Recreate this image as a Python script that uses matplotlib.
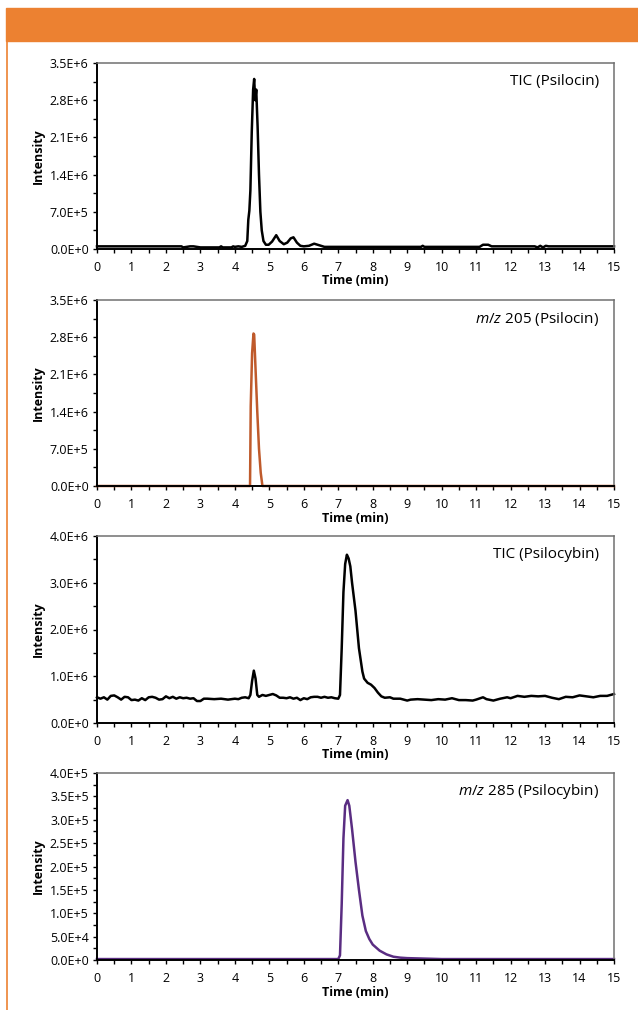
#!/usr/bin/env python3
import matplotlib

matplotlib.use("Agg")
import matplotlib.pyplot as plt  # noqa: E402
from matplotlib.lines import Line2D  # noqa: E402
from matplotlib.patches import Rectangle  # noqa: E402
from matplotlib.ticker import FixedLocator, FixedFormatter, MultipleLocator  # noqa: E402

plt.rcParams["font.family"] = ["Open Sans", "DejaVu Sans"]
plt.rcParams["mathtext.fontset"] = "custom"
plt.rcParams["mathtext.it"] = "Open Sans:italic"
plt.rcParams["mathtext.rm"] = "Open Sans"

ORANGE = "#ec8131"
BROWN = "#bf5a2b"
PURPLE = "#5a2d82"

X_TICKS = list(range(0, 16))

# panel 1: TIC (Psilocin), intensity in 1e6
psilocin_tic_t = [0.0, 2.45, 2.5, 2.6, 2.7, 2.8, 2.9, 3.0, 3.3, 3.55, 3.6, 3.65,
                  3.9, 3.95, 4.0, 4.1, 4.2, 4.3, 4.36, 4.39, 4.42, 4.45, 4.49,
                  4.53, 4.56, 4.59, 4.62, 4.66, 4.70, 4.74, 4.78, 4.83, 4.9,
                  4.98, 5.08, 5.2, 5.3, 5.42, 5.52, 5.62, 5.7, 5.8, 5.9, 6.0,
                  6.15, 6.3, 6.45, 6.6, 6.8, 7.0, 9.4, 9.45, 9.5, 11.1, 11.2,
                  11.35, 11.45, 12.7, 12.78, 12.86, 12.94, 13.02, 13.1, 15.0]
psilocin_tic_i = [0.05, 0.05, 0.03, 0.04, 0.05, 0.05, 0.04, 0.03, 0.03, 0.03,
                  0.05, 0.03, 0.03, 0.05, 0.04, 0.05, 0.04, 0.06, 0.15, 0.55,
                  0.72, 1.1, 2.2, 3.0, 3.2, 2.8, 3.0, 2.3, 1.4, 0.7, 0.35,
                  0.15, 0.08, 0.08, 0.14, 0.26, 0.15, 0.09, 0.12, 0.2, 0.22,
                  0.12, 0.06, 0.05, 0.06, 0.1, 0.07, 0.04, 0.04, 0.04, 0.04,
                  0.06, 0.04, 0.04, 0.08, 0.08, 0.05, 0.05, 0.03, 0.06, 0.03,
                  0.06, 0.05, 0.05]

# panel 2: m/z 205 (Psilocin), intensity in 1e6
psilocin_205_t = [0.0, 4.44, 4.46, 4.50, 4.54, 4.56, 4.60, 4.65, 4.70, 4.75, 4.80, 15.0]
psilocin_205_i = [0.0, 0.0, 1.5, 2.5, 2.87, 2.85, 2.2, 1.4, 0.7, 0.25, 0.0, 0.0]

# panel 3: TIC (Psilocybin), intensity in 1e6
psilocybin_tic_t = [0.0, 0.1, 0.2, 0.3, 0.4, 0.5, 0.6, 0.7, 0.8, 0.9, 1.0, 1.1,
                    1.2, 1.3, 1.4, 1.5, 1.6, 1.7, 1.8, 1.9, 2.0, 2.1, 2.2, 2.3,
                    2.4, 2.5, 2.6, 2.7, 2.8, 2.9, 3.0, 3.1, 3.2, 3.4, 3.6, 3.8,
                    4.0, 4.1, 4.2, 4.3, 4.4, 4.45, 4.5, 4.55, 4.6, 4.65, 4.7,
                    4.8, 4.9, 5.0, 5.1, 5.2, 5.3, 5.4, 5.5, 5.6, 5.7, 5.8, 5.9,
                    6.0, 6.1, 6.2, 6.3, 6.4, 6.5, 6.6, 6.7, 6.8, 6.9, 7.0, 7.05,
                    7.1, 7.15, 7.2, 7.25, 7.3, 7.35, 7.4, 7.5, 7.6, 7.7, 7.75,
                    7.85, 7.95, 8.05, 8.15, 8.25, 8.35, 8.5, 8.6, 8.8, 9.0, 9.1,
                    9.3, 9.5, 9.7, 9.9, 10.1, 10.3, 10.5, 10.7, 10.9, 11.0, 11.2,
                    11.3, 11.5, 11.7, 11.9, 12.0, 12.2, 12.4, 12.6, 12.8, 13.0,
                    13.2, 13.4, 13.6, 13.8, 14.0, 14.2, 14.4, 14.6, 14.8, 15.0]
psilocybin_tic_i = [0.55, 0.52, 0.55, 0.50, 0.58, 0.59, 0.55, 0.50, 0.56, 0.55,
                    0.49, 0.50, 0.48, 0.53, 0.49, 0.55, 0.56, 0.54, 0.50, 0.51,
                    0.57, 0.53, 0.56, 0.52, 0.55, 0.53, 0.54, 0.52, 0.53, 0.47,
                    0.47, 0.52, 0.52, 0.51, 0.52, 0.50, 0.52, 0.51, 0.54, 0.55,
                    0.53, 0.60, 0.90, 1.12, 0.95, 0.60, 0.56, 0.60, 0.58, 0.60,
                    0.62, 0.59, 0.54, 0.54, 0.53, 0.55, 0.52, 0.54, 0.49, 0.53,
                    0.51, 0.55, 0.56, 0.56, 0.54, 0.56, 0.54, 0.55, 0.53, 0.52,
                    0.60, 1.60, 2.80, 3.40, 3.60, 3.52, 3.35, 3.00, 2.40, 1.60,
                    1.10, 0.95, 0.86, 0.82, 0.75, 0.65, 0.57, 0.54, 0.55, 0.52,
                    0.52, 0.48, 0.50, 0.51, 0.50, 0.49, 0.51, 0.50, 0.53, 0.49,
                    0.49, 0.48, 0.50, 0.55, 0.51, 0.48, 0.52, 0.55, 0.53, 0.58,
                    0.56, 0.58, 0.57, 0.58, 0.54, 0.51, 0.56, 0.55, 0.59, 0.57,
                    0.55, 0.58, 0.58, 0.62]

# panel 4: m/z 285 (Psilocybin), intensity in 1e5
psilocybin_285_t = [0.0, 7.0, 7.05, 7.1, 7.15, 7.2, 7.27, 7.32, 7.4, 7.5, 7.6,
                    7.7, 7.8, 7.9, 8.0, 8.2, 8.4, 8.6, 8.8, 9.0, 9.5, 10.0, 15.0]
psilocybin_285_i = [0.02, 0.02, 0.1, 1.2, 2.6, 3.3, 3.42, 3.3, 2.8, 2.1, 1.5,
                    0.95, 0.62, 0.45, 0.33, 0.2, 0.12, 0.07, 0.05, 0.04, 0.03,
                    0.02, 0.02]

Y_TICKS_A = [0.0, 0.7, 1.4, 2.1, 2.8, 3.5]
Y_LABELS_A = ["0.0E+0", "7.0E+5", "1.4E+6", "2.1E+6", "2.8E+6", "3.5E+6"]
Y_TICKS_B = [0.0, 1.0, 2.0, 3.0, 4.0]
Y_LABELS_B = ["0.0E+0", "1.0E+6", "2.0E+6", "3.0E+6", "4.0E+6"]
Y_TICKS_C = [0.0, 0.5, 1.0, 1.5, 2.0, 2.5, 3.0, 3.5, 4.0]
Y_LABELS_C = ["0.0E+0", "5.0E+4", "1.0E+5", "1.5E+5", "2.0E+5", "2.5E+5",
              "3.0E+5", "3.5E+5", "4.0E+5"]

PANELS = [
    (psilocin_tic_t, psilocin_tic_i, "black", "TIC (Psilocin)", Y_TICKS_A, Y_LABELS_A, 0.35),
    (psilocin_205_t, psilocin_205_i, BROWN, r"$m/z$ 205 (Psilocin)", Y_TICKS_A, Y_LABELS_A, 0.35),
    (psilocybin_tic_t, psilocybin_tic_i, "black", "TIC (Psilocybin)", Y_TICKS_B, Y_LABELS_B, 0.5),
    (psilocybin_285_t, psilocybin_285_i, PURPLE, r"$m/z$ 285 (Psilocybin)", Y_TICKS_C, Y_LABELS_C, 0.25),
]

# panel boxes in pixels: (top, bottom)
BOXES = [(63, 249), (300, 486), (536, 723), (773, 960)]
W, H = 638, 1010
LEFT, RIGHT = 97, 614


def style_axes(ax, yticks, ylabels, yminor):
    for side in ("left", "bottom"):
        ax.spines[side].set_color("black")
        ax.spines[side].set_linewidth(1.4)
    for side in ("top", "right"):
        ax.spines[side].set_color("#707070")
        ax.spines[side].set_linewidth(1.1)
    ax.set_xlim(0, 15)
    ax.set_ylim(yticks[0], yticks[-1])
    ax.xaxis.set_major_locator(FixedLocator(X_TICKS))
    ax.xaxis.set_minor_locator(MultipleLocator(0.5))
    ax.yaxis.set_major_locator(FixedLocator(yticks))
    ax.yaxis.set_major_formatter(FixedFormatter(ylabels))
    ax.yaxis.set_minor_locator(MultipleLocator(yminor))
    ax.tick_params(axis="x", which="both", direction="out", length=3,
                   width=1.0, pad=5.5, labelsize=9)
    ax.tick_params(axis="y", which="both", direction="out", length=3,
                   width=1.0, pad=3.0, labelsize=9)


def main():
    fig = plt.figure(figsize=(W / 100, H / 100), dpi=100)
    fig.patches.append(Rectangle((6 / W, 1 - 40.5 / H), 1, 32.5 / H,
                                 transform=fig.transFigure, color=ORANGE,
                                 zorder=0))
    fig.lines.append(Line2D([7 / W, 7 / W], [0, 1 - 40 / H],
                            transform=fig.transFigure, color=ORANGE, lw=1.2))

    for (t, y, color, title, yticks, ylabels, yminor), (top, bottom) in zip(PANELS, BOXES):
        ax = fig.add_axes([LEFT / W, 1 - bottom / H, (RIGHT - LEFT) / W,
                           (bottom - top) / H])
        ax.plot(t, y, color=color, lw=1.8, solid_joinstyle="round", clip_on=False)
        style_axes(ax, yticks, ylabels, yminor)
        hgt = bottom - top
        ax.text(0.971, 1 - 18.5 / hgt, title, transform=ax.transAxes,
                ha="right", va="center", fontsize=11)
        ax.text(0.5, -32 / hgt, "Time (min)", transform=ax.transAxes,
                ha="center", va="center", fontsize=9, fontweight="bold")
        fig.text(38 / W, 1 - (top + bottom) / 2 / H, "Intensity", rotation=90,
                 ha="center", va="center", fontsize=9, fontweight="bold")

    fig.savefig("out.png", dpi=100)


if __name__ == "__main__":
    main()
